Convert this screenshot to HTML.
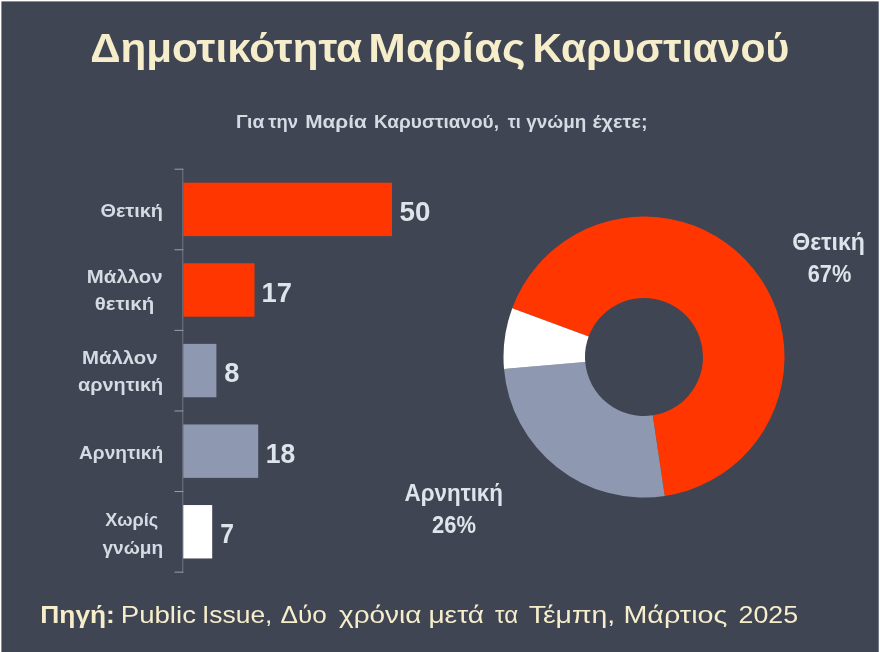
<!DOCTYPE html>
<html lang="el"><head><meta charset="utf-8"><title>Δημοτικότητα Μαρίας Καρυστιανού</title>
<style>
html,body{margin:0;padding:0;background:#fff;}
body{width:880px;height:652px;overflow:hidden;font-family:"Liberation Sans",sans-serif;}
svg{display:block;font-family:"Liberation Sans",sans-serif;}
</style></head><body>
<svg width="880" height="652" viewBox="0 0 880 652">
<defs><filter id="soft" filterUnits="userSpaceOnUse" x="-12" y="-12" width="904" height="676" color-interpolation-filters="sRGB"><feGaussianBlur stdDeviation="0.55"/></filter></defs>
<g filter="url(#soft)">
<rect x="-12" y="-12" width="904" height="676" fill="#ffffff"/>
<rect x="1.4" y="1.4" width="877.3" height="670" fill="#404554"/>
<text x="90.16" y="62.0" font-size="41.5" font-weight="bold" fill="#f6edcb" textLength="271.87" lengthAdjust="spacingAndGlyphs">Δημοτικότητα</text>
<text x="368.30" y="62.0" font-size="41.5" font-weight="bold" fill="#f6edcb" textLength="157.11" lengthAdjust="spacingAndGlyphs">Μαρίας</text>
<text x="532.59" y="62.0" font-size="41.5" font-weight="bold" fill="#f6edcb" textLength="256.66" lengthAdjust="spacingAndGlyphs">Καρυστιανού</text>
<text x="236.04" y="128.0" font-size="18" font-weight="bold" fill="#d6dae2" textLength="28.28" lengthAdjust="spacingAndGlyphs">Για</text>
<text x="268.21" y="128.0" font-size="18" font-weight="bold" fill="#d6dae2" textLength="29.74" lengthAdjust="spacingAndGlyphs">την</text>
<text x="305.24" y="128.0" font-size="18" font-weight="bold" fill="#d6dae2" textLength="61.59" lengthAdjust="spacingAndGlyphs">Μαρία</text>
<text x="374.07" y="128.0" font-size="18" font-weight="bold" fill="#d6dae2" textLength="124.86" lengthAdjust="spacingAndGlyphs">Καρυστιανού,</text>
<text x="507.71" y="128.0" font-size="18" font-weight="bold" fill="#d6dae2" textLength="13.05" lengthAdjust="spacingAndGlyphs">τι</text>
<text x="526.26" y="128.0" font-size="18" font-weight="bold" fill="#d6dae2" textLength="60.02" lengthAdjust="spacingAndGlyphs">γνώμη</text>
<text x="592.60" y="128.0" font-size="18" font-weight="bold" fill="#d6dae2" textLength="54.95" lengthAdjust="spacingAndGlyphs">έχετε;</text>
<rect x="182.3" y="168.7" width="1" height="403.95" fill="#9a9fae" opacity="0.55"/>
<rect x="174.5" y="168.70" width="8.8" height="1" fill="#9a9fae"/>
<rect x="174.5" y="249.29" width="8.8" height="1" fill="#9a9fae"/>
<rect x="174.5" y="329.88" width="8.8" height="1" fill="#9a9fae"/>
<rect x="174.5" y="410.47" width="8.8" height="1" fill="#9a9fae"/>
<rect x="174.5" y="491.06" width="8.8" height="1" fill="#9a9fae"/>
<rect x="174.5" y="571.65" width="8.8" height="1" fill="#9a9fae"/>
<rect x="183.3" y="182.70" width="208.7" height="53.4" fill="#ff3600"/>
<rect x="183.3" y="263.28" width="71.2" height="53.4" fill="#ff3600"/>
<rect x="183.3" y="343.88" width="33.1" height="53.4" fill="#8e99b1"/>
<rect x="183.3" y="424.46" width="74.9" height="53.4" fill="#8e99b1"/>
<rect x="183.3" y="505.06" width="28.9" height="53.4" fill="#ffffff"/>
<text x="399.52" y="221.0" font-size="27" font-weight="bold" fill="#dfe3ea" textLength="30.91" lengthAdjust="spacingAndGlyphs">50</text>
<text x="261.54" y="301.6" font-size="27" font-weight="bold" fill="#dfe3ea" textLength="30.44" lengthAdjust="spacingAndGlyphs">17</text>
<text x="224.37" y="382.2" font-size="27" font-weight="bold" fill="#dfe3ea" textLength="15.13" lengthAdjust="spacingAndGlyphs">8</text>
<text x="265.69" y="462.8" font-size="27" font-weight="bold" fill="#dfe3ea" textLength="29.52" lengthAdjust="spacingAndGlyphs">18</text>
<text x="220.30" y="543.4" font-size="27" font-weight="bold" fill="#dfe3ea" textLength="13.73" lengthAdjust="spacingAndGlyphs">7</text>
<text x="100.45" y="216.6" font-size="19" font-weight="bold" fill="#d6dae2" textLength="62.59" lengthAdjust="spacingAndGlyphs">Θετική</text>
<text x="86.87" y="283.0" font-size="19" font-weight="bold" fill="#d6dae2" textLength="75.84" lengthAdjust="spacingAndGlyphs">Μάλλον</text>
<text x="94.68" y="310.0" font-size="19" font-weight="bold" fill="#d6dae2" textLength="59.50" lengthAdjust="spacingAndGlyphs">θετική</text>
<text x="81.98" y="363.7" font-size="19" font-weight="bold" fill="#d6dae2" textLength="75.54" lengthAdjust="spacingAndGlyphs">Μάλλον</text>
<text x="77.96" y="391.3" font-size="19" font-weight="bold" fill="#d6dae2" textLength="85.30" lengthAdjust="spacingAndGlyphs">αρνητική</text>
<text x="79.07" y="459.2" font-size="19" font-weight="bold" fill="#d6dae2" textLength="84.13" lengthAdjust="spacingAndGlyphs">Αρνητική</text>
<text x="105.37" y="526.3" font-size="19" font-weight="bold" fill="#d6dae2" textLength="52.81" lengthAdjust="spacingAndGlyphs">Χωρίς</text>
<text x="102.45" y="553.5" font-size="19" font-weight="bold" fill="#d6dae2" textLength="60.74" lengthAdjust="spacingAndGlyphs">γνώμη</text>
<path d="M512.23,308.26 A140.5,140.5 0 1 1 664.77,495.96 L652.72,415.35 A59,59 0 1 0 588.66,336.53 Z" fill="#ff3600"/>
<path d="M664.77,495.96 A140.5,140.5 0 0 1 504.01,369.00 L585.22,362.04 A59,59 0 0 0 652.72,415.35 Z" fill="#8e99b1"/>
<path d="M504.01,369.00 A140.5,140.5 0 0 1 512.23,308.26 L588.66,336.53 A59,59 0 0 0 585.22,362.04 Z" fill="#ffffff"/>
<text x="792.33" y="250.4" font-size="23" font-weight="bold" fill="#dfe3ea" textLength="72.51" lengthAdjust="spacingAndGlyphs">Θετική</text>
<text x="807.73" y="281.7" font-size="23" font-weight="bold" fill="#dfe3ea" textLength="43.59" lengthAdjust="spacingAndGlyphs">67%</text>
<text x="404.59" y="501.3" font-size="23" font-weight="bold" fill="#dfe3ea" textLength="98.41" lengthAdjust="spacingAndGlyphs">Αρνητική</text>
<text x="431.98" y="532.8" font-size="23" font-weight="bold" fill="#dfe3ea" textLength="43.95" lengthAdjust="spacingAndGlyphs">26%</text>
<text x="40.38" y="623.0" font-size="24" font-weight="bold" fill="#f6edcb" textLength="74.49" lengthAdjust="spacingAndGlyphs">Πηγή:</text>
<text x="120.77" y="623.0" font-size="24" font-weight="normal" fill="#f6edcb" textLength="75.17" lengthAdjust="spacingAndGlyphs">Public</text>
<text x="202.01" y="623.0" font-size="24" font-weight="normal" fill="#f6edcb" textLength="70.43" lengthAdjust="spacingAndGlyphs">Issue,</text>
<text x="280.57" y="623.0" font-size="24" font-weight="normal" fill="#f6edcb" textLength="46.15" lengthAdjust="spacingAndGlyphs">Δύο</text>
<text x="339.07" y="623.0" font-size="24" font-weight="normal" fill="#f6edcb" textLength="82.35" lengthAdjust="spacingAndGlyphs">χρόνια</text>
<text x="428.46" y="623.0" font-size="24" font-weight="normal" fill="#f6edcb" textLength="55.59" lengthAdjust="spacingAndGlyphs">μετά</text>
<text x="494.99" y="623.0" font-size="24" font-weight="normal" fill="#f6edcb" textLength="23.06" lengthAdjust="spacingAndGlyphs">τα</text>
<text x="528.71" y="623.0" font-size="24" font-weight="normal" fill="#f6edcb" textLength="86.48" lengthAdjust="spacingAndGlyphs">Τέμπη,</text>
<text x="623.49" y="623.0" font-size="24" font-weight="normal" fill="#f6edcb" textLength="103.79" lengthAdjust="spacingAndGlyphs">Μάρτιος</text>
<text x="738.51" y="623.0" font-size="24" font-weight="normal" fill="#f6edcb" textLength="59.57" lengthAdjust="spacingAndGlyphs">2025</text>
</g>
</svg>
</body></html>
